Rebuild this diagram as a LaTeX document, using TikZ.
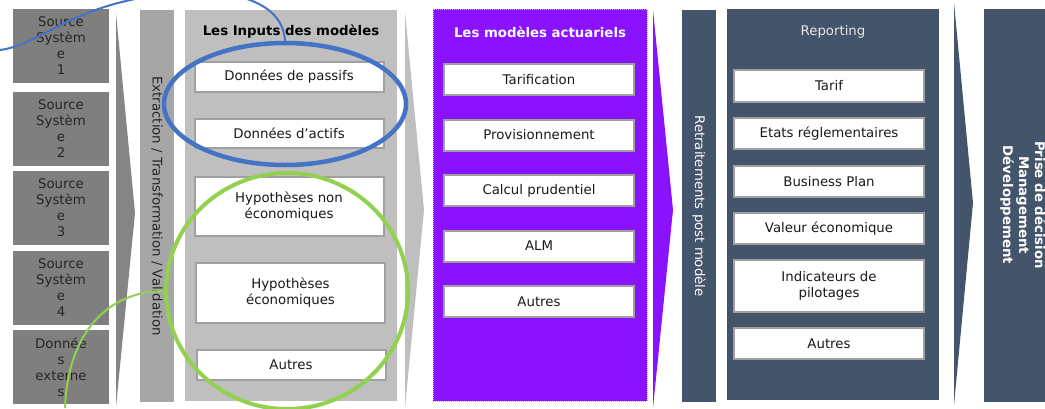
\documentclass[tikz,border=0pt]{standalone}
\usepackage{fontspec}
\setmainfont{DejaVu Sans}
\usetikzlibrary{shapes.geometric}
\definecolor{srcgrey}{HTML}{7F7F7F}
\definecolor{bargrey}{HTML}{A6A6A6}
\definecolor{panelgrey}{HTML}{BFBFBF}
\definecolor{modpurple}{HTML}{8A12FF}
\definecolor{slate}{HTML}{44546A}
\definecolor{ringblue}{HTML}{4472C4}
\definecolor{ringgreen}{HTML}{92D050}
\definecolor{itemedge}{HTML}{A0A0A0}

\begin{document}
\begin{tikzpicture}[x=1pt, y=-1pt,
    txt/.style={font=\fontsize{13.3}{16}\selectfont},
    src/.style={txt, fill=srcgrey, minimum width=96pt, minimum height=74pt,
      align=center, inner sep=0pt, text=black!85},
    panel/.style={minimum width=212pt, minimum height=391pt, inner sep=0pt},
    bar/.style={txt, rotate=-90, minimum width=392pt, minimum height=34pt,
      inner sep=0pt},
    item/.style={txt, fill=white, draw=itemedge, line width=2pt,
      minimum width=189pt, minimum height=30pt, align=center, inner sep=0pt,
      text=black!90},
    title/.style={font=\fontsize{13.3}{16}\selectfont\bfseries},
    chev/.style={draw=none},
    ring/.style={ellipse, inner sep=0pt, line width=4.5pt},
    link/.style={line width=2pt}
  ]
    \useasboundingbox (0,0) rectangle (1045,408);
    \node[src] (src1) at (61,46) {Source\\Systèm\\e\\1};
    \node[src] (src2) at (61,129) {Source\\Systèm\\e\\2};
    \node[src] (src3) at (61,208) {Source\\Systèm\\e\\3};
    \node[src] (src4) at (61,288) {Source\\Systèm\\e\\4};
    \node[src] (ext) at (61,367) {Donnée\\s\\externe\\s};
    \fill[chev, srcgrey!95] (116,13) -- (135,213) -- (116,407) -- cycle;
    \node[bar, fill=bargrey, text=black!85] (extract) at (157,206)
      {Extraction / Transformation / Validation};
    \node[panel, fill=panelgrey] (inputs) at (291,205.5) {};
    \node[title] (inputstitle) at (291,32) {Les Inputs des modèles};
    \node[item] (passifs) at (289,77) {Données de passifs};
    \node[item, minimum height=29pt] (actifs) at (289,133.5) {Données d’actifs};
    \node[item, minimum height=59pt] (hypnon) at (289,206.5)
      {Hypothèses non\\économiques};
    \node[item, minimum height=60pt] (hypeco) at (290.5,293)
      {Hypothèses\\économiques};
    \node[item] (inautres) at (291,365) {Autres};
    \fill[chev, panelgrey] (405,12) -- (424,210) -- (405,408) -- cycle;
    \node[panel, fill=modpurple, draw=modpurple!45!white, densely dotted,
      line width=1pt, minimum width=214pt, minimum height=392pt]
      (models) at (540,205) {};
    \node[title, text=white] (modelstitle) at (540,32) {Les modèles actuariels};
    \node[item, minimum width=190pt, minimum height=31pt] (tarification)
      at (539,79.5) {Tarification};
    \node[item, minimum width=190pt, minimum height=31pt] (provision)
      at (539,135) {Provisionnement};
    \node[item, minimum width=190pt, minimum height=31pt] (prudentiel)
      at (539,190.5) {Calcul prudentiel};
    \node[item, minimum width=190pt, minimum height=31pt] (alm)
      at (539,246) {ALM};
    \node[item, minimum width=190pt, minimum height=31pt] (modautres)
      at (539,301.5) {Autres};
    \fill[chev, modpurple] (653,10) -- (673,210) -- (653,408) -- cycle;
    \node[bar, fill=slate, text=white] (retraitements) at (699,206)
      {Retraitements post modèle};
    \node[panel, fill=slate] (reporting) at (833,204.5) {};
    \node[txt, text=white!90!black] (reportingtitle) at (833,32) {Reporting};
    \node[item, minimum width=190pt, minimum height=32pt] (tarif)
      at (829,86) {Tarif};
    \node[item, minimum width=190pt, minimum height=31pt] (etats)
      at (829,133.5) {Etats réglementaires};
    \node[item, minimum width=190pt, minimum height=31pt] (bp)
      at (829,181.5) {Business Plan};
    \node[item, minimum width=190pt, minimum height=31pt] (valeur)
      at (829,228.5) {Valeur économique};
    \node[item, minimum width=190pt, minimum height=52pt] (indicateurs)
      at (829,286) {Indicateurs de\\pilotages};
    \node[item, minimum width=190pt, minimum height=31pt] (repautres)
      at (829,343.5) {Autres};
    \fill[chev, slate] (954,3) -- (973,203) -- (954,405) -- cycle;
    \node[fill=slate, minimum width=61pt, minimum height=393pt, inner sep=0pt]
      (decision) at (1014.5,205.5) {};
    \node[title, text=white, rotate=-90, align=center] (decisiontext)
      at (1023,205) {Prise de décision\\Management\\Développement};
    \node[ring, draw=ringblue, minimum width=242pt, minimum height=122pt]
      (blue) at (285,104) {};
    \node[ring, draw=ringgreen, line width=4pt, minimum width=242pt,
      minimum height=236pt] (green) at (287,291) {};
    \coordinate (bluefree) at (0,50);
    \coordinate (greenfree) at (65,408);
    \draw[link, ringblue] (bluefree) .. controls (40,45) and (70,6) .. (160,-5)
      .. controls (240,-15) and (283,5) .. (blue.north);
    \draw[link, ringgreen] (greenfree) .. controls (68,330) and (110,291) .. (green.west);
  \end{tikzpicture}
\end{document}
